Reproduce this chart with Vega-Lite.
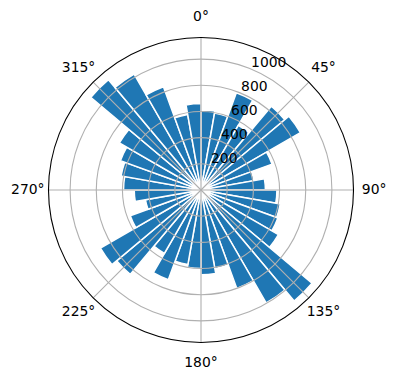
{
  "$schema": "https://vega.github.io/schema/vega-lite/v6.json",
  "width": 390,
  "height": 380,
  "autosize": {"type": "none"},
  "padding": {"left": 6, "top": 0, "right": 0, "bottom": 0},
  "background": "white",
  "config": {"view": {"stroke": null}, "font": "DejaVu Sans"},
  "layer": [
    {
      "data": {"values": [
        {"start": 0, "end": 10, "value": 612},
        {"start": 10, "end": 20, "value": 597},
        {"start": 20, "end": 30, "value": 790},
        {"start": 30, "end": 40, "value": 570},
        {"start": 40, "end": 50, "value": 836},
        {"start": 50, "end": 60, "value": 877},
        {"start": 60, "end": 70, "value": 578},
        {"start": 70, "end": 80, "value": 411},
        {"start": 80, "end": 90, "value": 492},
        {"start": 90, "end": 100, "value": 580},
        {"start": 100, "end": 110, "value": 615},
        {"start": 110, "end": 120, "value": 625},
        {"start": 120, "end": 130, "value": 683},
        {"start": 130, "end": 140, "value": 1107},
        {"start": 140, "end": 150, "value": 997},
        {"start": 150, "end": 160, "value": 800},
        {"start": 160, "end": 170, "value": 610},
        {"start": 170, "end": 180, "value": 647},
        {"start": 180, "end": 190, "value": 600},
        {"start": 190, "end": 200, "value": 578},
        {"start": 200, "end": 210, "value": 730},
        {"start": 210, "end": 220, "value": 560},
        {"start": 220, "end": 230, "value": 842},
        {"start": 230, "end": 240, "value": 887},
        {"start": 240, "end": 250, "value": 575},
        {"start": 250, "end": 260, "value": 431},
        {"start": 260, "end": 270, "value": 510},
        {"start": 270, "end": 280, "value": 592},
        {"start": 280, "end": 290, "value": 620},
        {"start": 290, "end": 300, "value": 655},
        {"start": 300, "end": 310, "value": 720},
        {"start": 310, "end": 320, "value": 1100},
        {"start": 320, "end": 330, "value": 1022},
        {"start": 330, "end": 340, "value": 839},
        {"start": 340, "end": 350, "value": 586},
        {"start": 350, "end": 360, "value": 660}
      ]},
      "mark": {"type": "arc", "fill": "#1f77b4", "stroke": "white", "strokeWidth": 1.5},
      "encoding": {
        "theta": {"field": "start", "type": "quantitative", "stack": null, "scale": {"domain": [0, 360], "range": [0, 6.283185307179586]}},
        "theta2": {"field": "end"},
        "radius": {"field": "value", "type": "quantitative", "stack": null, "scale": {"type": "linear", "domain": [0, 1165], "range": [0, 152.5], "zero": true, "nice": false}}
      }
    },
    {
      "data": {"values": [{"r": 200}, {"r": 400}, {"r": 600}, {"r": 800}, {"r": 1000}]},
      "mark": {"type": "arc", "fill": null, "filled": false, "stroke": "#b0b0b0", "strokeWidth": 1.1},
      "encoding": {
        "theta": {"datum": 0, "type": "quantitative", "scale": {"domain": [0, 360], "range": [0, 6.283185307179586]}},
        "theta2": {"datum": 360},
        "radius": {"field": "r", "type": "quantitative", "stack": null, "scale": {"type": "linear", "domain": [0, 1165], "range": [0, 152.5], "zero": true, "nice": false}}
      }
    },
    {
      "data": {"values": [{"a": 0}, {"a": 45}, {"a": 90}, {"a": 135}, {"a": 180}, {"a": 225}, {"a": 270}, {"a": 315}]},
      "mark": {"type": "arc", "fill": null, "filled": false, "stroke": "#b0b0b0", "strokeWidth": 1.1},
      "encoding": {
        "theta": {"field": "a", "type": "quantitative", "stack": null, "scale": {"domain": [0, 360], "range": [0, 6.283185307179586]}},
        "theta2": {"field": "a"},
        "radius": {"datum": 1165, "type": "quantitative", "scale": {"type": "linear", "domain": [0, 1165], "range": [0, 152.5], "zero": true, "nice": false}}
      }
    },
    {
      "data": {"values": [{"o": 1}]},
      "mark": {"type": "arc", "fill": null, "filled": false, "stroke": "black", "strokeWidth": 1.1},
      "encoding": {
        "theta": {"datum": 0, "type": "quantitative", "scale": {"domain": [0, 360], "range": [0, 6.283185307179586]}},
        "theta2": {"datum": 360},
        "radius": {"datum": 1165, "type": "quantitative", "scale": {"type": "linear", "domain": [0, 1165], "range": [0, 152.5], "zero": true, "nice": false}}
      }
    },
    {
      "data": {"values": [
        {"a": 0, "label": "0°"}, {"a": 45, "label": "45°"}, {"a": 90, "label": "90°"}, {"a": 135, "label": "135°"},
        {"a": 180, "label": "180°"}, {"a": 225, "label": "225°"}, {"a": 270, "label": "270°"}, {"a": 315, "label": "315°"}
      ]},
      "mark": {"type": "text", "font": "DejaVu Sans", "fontSize": 13.9, "color": "black", "align": "center", "baseline": "middle"},
      "encoding": {
        "theta": {"field": "a", "type": "quantitative", "stack": null, "scale": {"domain": [0, 360], "range": [0, 6.283185307179586]}},
        "radius": {"datum": 1323, "type": "quantitative", "scale": {"type": "linear", "domain": [0, 1165], "range": [0, 152.5], "zero": true, "nice": false}},
        "text": {"field": "label"}
      }
    },
    {
      "data": {"values": [{"r": 200}, {"r": 400}, {"r": 600}, {"r": 800}, {"r": 1000}]},
      "mark": {"type": "text", "font": "DejaVu Sans", "fontSize": 13.9, "color": "black", "align": "left", "baseline": "alphabetic", "dy": -2.5},
      "encoding": {
        "theta": {"datum": 22.5, "type": "quantitative", "scale": {"domain": [0, 360], "range": [0, 6.283185307179586]}},
        "radius": {"field": "r", "type": "quantitative", "stack": null, "scale": {"type": "linear", "domain": [0, 1165], "range": [0, 152.5], "zero": true, "nice": false}},
        "text": {"field": "r", "type": "quantitative"}
      }
    }
  ]
}
